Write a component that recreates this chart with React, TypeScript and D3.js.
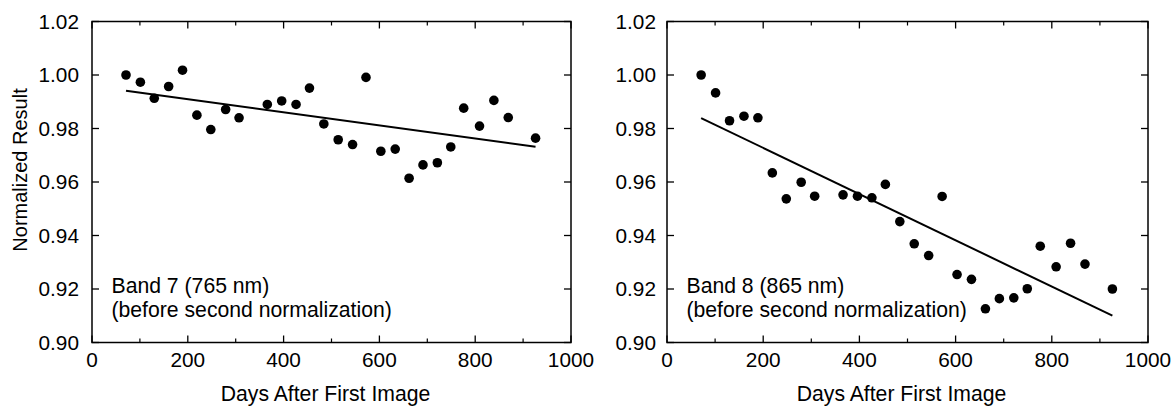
import React from 'react';
import * as d3 from 'd3';

// days after first image (shared by both bands)
const days = [71, 101, 130, 160, 189, 219, 248, 279, 307, 366, 396, 426, 454, 484, 514, 544, 572, 603, 633, 662, 691, 721, 749, 776, 809, 839, 869, 926];
const band7 = [1.0, 0.9973, 0.9913, 0.9957, 1.0018, 0.985, 0.9796, 0.9871, 0.984, 0.989, 0.9903, 0.989, 0.9951, 0.9817, 0.9758, 0.974, 0.9991, 0.9715, 0.9723, 0.9614, 0.9664, 0.9672, 0.9731, 0.9876, 0.9809, 0.9905, 0.9841, 0.9764];
const band8 = [1.0, 0.9933, 0.9829, 0.9846, 0.984, 0.9634, 0.9537, 0.9599, 0.9547, 0.9552, 0.9547, 0.9541, 0.9591, 0.9452, 0.9369, 0.9325, 0.9546, 0.9254, 0.9236, 0.9126, 0.9164, 0.9167, 0.9201, 0.936, 0.9283, 0.9371, 0.9293, 0.92];

const xMajor = [0, 200, 400, 600, 800, 1000];
const xMinor = [100, 300, 500, 700, 900];
const yMajor = [0.9, 0.92, 0.94, 0.96, 0.98, 1.0, 1.02];

const font = '"Liberation Sans", Arial, sans-serif';

// least squares fit
const fit = (xs: number[], ys: number[]) => {
  const mx = d3.mean(xs)!;
  const my = d3.mean(ys)!;
  const sxy = d3.sum(xs, (x, i) => (x - mx) * (ys[i] - my));
  const sxx = d3.sum(xs, x => (x - mx) * (x - mx));
  const b = sxy / sxx;
  return (x: number) => my + b * (x - mx);
};

const Panel = ({ values, label, left, right, labelGap, yTitle }: any) => {
  const top = 21.5, bottom = 342.5;
  const x = d3.scaleLinear().domain([0, 1000]).range([left, right]);
  const y = d3.scaleLinear().domain([0.9, 1.02]).range([bottom, top]);
  const f = fit(days, values);
  const ext = d3.extent(days) as [number, number];
  const fitLine = d3.line<number>().x(d => x(d)).y(d => y(f(d)))(ext);
  const cx = (left + right) / 2 - 6;

  return (
    <g>
      <rect x={left} y={top} width={right - left} height={bottom - top} fill="none" stroke="#000" strokeWidth={1.5} />
      {xMajor.map(t => (
        <g key={'xm' + t}>
          <line x1={x(t)} x2={x(t)} y1={bottom} y2={bottom - 7} stroke="#000" strokeWidth={1.3} />
          <line x1={x(t)} x2={x(t)} y1={top} y2={top + 7} stroke="#000" strokeWidth={1.3} />
          <text x={x(t)} y={367} textAnchor="middle" fontSize={20.8} fontFamily={font}>{t}</text>
        </g>
      ))}
      {xMinor.map(t => (
        <g key={'xn' + t}>
          <line x1={x(t)} x2={x(t)} y1={bottom} y2={bottom - 4} stroke="#000" strokeWidth={1.2} />
          <line x1={x(t)} x2={x(t)} y1={top} y2={top + 4} stroke="#000" strokeWidth={1.2} />
        </g>
      ))}
      {yMajor.map(t => (
        <g key={'y' + t}>
          <line x1={left} x2={left + 7} y1={y(t)} y2={y(t)} stroke="#000" strokeWidth={1.3} />
          <line x1={right} x2={right - 7} y1={y(t)} y2={y(t)} stroke="#000" strokeWidth={1.3} />
          <text x={left - labelGap} y={y(t)} dy="0.36em" textAnchor="end" fontSize={20.8} fontFamily={font}>{t.toFixed(2)}</text>
        </g>
      ))}
      <path d={fitLine!} fill="none" stroke="#000" strokeWidth={2} />
      {days.map((d, i) => (
        <circle key={i} cx={x(d)} cy={y(values[i])} r={4.8} fill="#000" />
      ))}
      <text x={left + 19.5} y={293} fontSize={21.2} fontFamily={font}>{label}</text>
      <text x={left + 19.5} y={316.5} fontSize={21.2} fontFamily={font}>(before second normalization)</text>
      <text x={cx} y={401} textAnchor="middle" fontSize={21.2} fontFamily={font}>Days After First Image</text>
      {yTitle && (
        <text transform={`translate(27,170) rotate(-90)`} textAnchor="middle" fontSize={20} fontFamily={font}>Normalized Result</text>
      )}
    </g>
  );
};

export default function App() {
  return (
    <svg width={1174} height={406} style={{ position: 'absolute', left: 0, top: 0, background: '#fff' }}>
      <Panel values={band7} label="Band 7 (765 nm)" left={92} right={571} labelGap={13} yTitle />
      <Panel values={band8} label="Band 8 (865 nm)" left={667} right={1148} labelGap={11} />
    </svg>
  );
}
